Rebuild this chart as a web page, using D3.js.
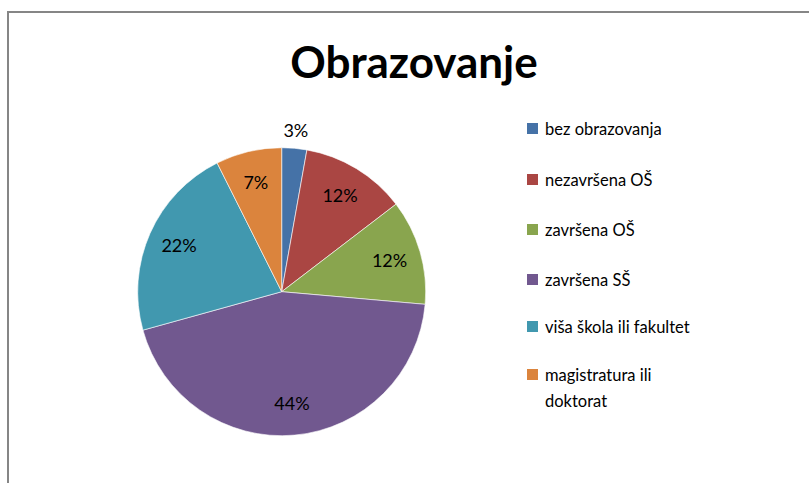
<!DOCTYPE html>
<html><head><meta charset="utf-8">
<script src="https://cdn.jsdelivr.net/npm/d3@7/dist/d3.min.js"></script>
<style>body{margin:0;background:#fff;} svg{display:block;}</style>
</head><body>
<svg id="c" width="809" height="483"></svg>
<script>
const title = "Obrazovanje";
const categories = ["bez obrazovanja","nezavršena OŠ","završena OŠ","završena SŠ","viša škola ili fakultet","magistratura ili doktorat"];
const values = [2.8, 11.8, 11.8, 44.3, 21.9, 7.4];
const labels = ["3%","12%","12%","44%","22%","7%"];
const colors = ["#4572A7","#AA4643","#89A54E","#71588F","#4198AF","#DB843D"];

const font = "Lato, 'Open Sans', sans-serif";
const svg = d3.select("#c");
svg.append("path").attr("d","M8,484 V12 H810").attr("fill","none").attr("stroke","#868686").attr("stroke-width",2);

svg.append("text").attr("x",414).attr("y",78).attr("text-anchor","middle")
  .attr("font-family",font).attr("font-weight","bold").attr("font-size",44).attr("fill","#000").text(title);

const cx=281.7, cy=291.7, r=144;
const pie = d3.pie().sort(null).value(d=>d)(values);
const arc = d3.arc().innerRadius(0).outerRadius(r);
const g = svg.append("g").attr("transform",`translate(${cx},${cy})`);
g.selectAll("path").data(pie).join("path").attr("d",arc)
  .attr("fill",(d,i)=>colors[i]).attr("stroke","#fff").attr("stroke-width",0.6);

const inArc = d3.arc().innerRadius(r*0.78).outerRadius(r*0.78);
const outArc = d3.arc().innerRadius(r*1.12).outerRadius(r*1.12);
g.selectAll("text.l").data(pie).join("text").attr("class","l")
  .attr("transform",(d,i)=>{const c=(i===0?outArc:inArc).centroid(d);return `translate(${c[0]},${c[1]})`;})
  .attr("text-anchor","middle").attr("dy","0.35em")
  .attr("font-family",font).attr("font-size",18).attr("fill","#000")
  .text((d,i)=>labels[i]);

const ly = [129,180,230,280,327,375];
const lg = svg.append("g");
categories.forEach((c,i)=>{
  lg.append("rect").attr("x",527).attr("y",ly[i]-6).attr("width",11).attr("height",11).attr("fill",colors[i]);
  const lines = c==="magistratura ili doktorat" ? ["magistratura ili","doktorat"] : [c];
  lines.forEach((t,j)=>{
    lg.append("text").attr("x",545).attr("y",ly[i]+j*26).attr("dy","0.35em")
      .attr("font-family",font).attr("font-size",16.5).attr("fill","#000").text(t);
  });
});
</script>
</body></html>
